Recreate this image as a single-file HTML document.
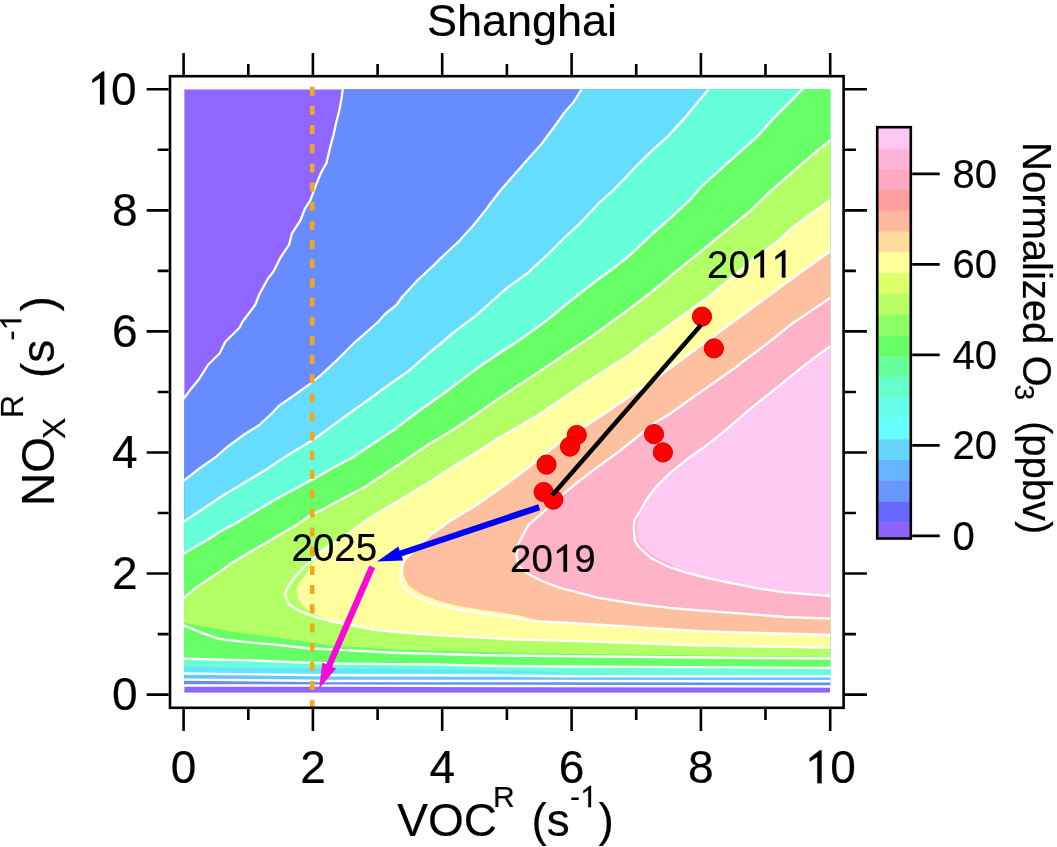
<!DOCTYPE html>
<html><head><meta charset="utf-8"><style>
html,body{margin:0;padding:0;background:#fff;width:1057px;height:847px;overflow:hidden;}
body{position:relative;font-family:"Liberation Sans",sans-serif;}
</style></head><body>
<svg width="1057" height="847" viewBox="0 0 1057 847" style="position:absolute;left:0;top:0;will-change:transform">
<defs><clipPath id="dc"><rect x="184.2" y="89.3" width="646.0" height="603.5"/></clipPath></defs>
<g clip-path="url(#dc)">
<rect x="184.2" y="89.3" width="646.0" height="603.5" fill="#8f66ff"/>
<path d="M342.8,85.0 L342.8,89.5 L341.4,99.2 L339.3,110.5 L336.4,121.8 L333.6,134.6 L330.1,147.4 L326.5,162.9 L320.9,172.9 L315.2,187.0 L310.5,200.0 L304.7,209.2 L300.4,220.5 L292.0,233.3 L289.1,244.6 L280.6,257.3 L273.5,271.5 L267.9,278.6 L259.4,294.2 L255.1,305.0 L242.3,322.0 L239.5,327.7 L225.3,341.8 L219.7,353.2 L208.3,364.5 L198.4,380.1 L191.3,388.6 L184.3,397.8 L180.0,403.0 L180.0,685.5 L184.3,685.5 L330.0,685.6 L500.0,686.0 L830.0,686.5 L835.0,686.5 L835.0,85.0 Z" fill="#668cff"/>
<path d="M581.5,85.0 L581.5,89.5 L573.7,102.0 L563.8,113.3 L553.8,127.5 L541.5,144.0 L528.0,159.0 L514.0,175.0 L500.0,191.0 L489.3,205.0 L485.3,210.6 L472.6,226.2 L458.4,241.8 L450.0,249.5 L440.0,258.8 L434.7,264.4 L417.7,280.0 L402.1,297.0 L396.4,305.0 L385.1,314.0 L378.0,322.0 L355.3,341.8 L338.3,358.8 L320.0,375.9 L307.5,385.8 L293.4,395.7 L279.2,405.6 L270.0,415.2 L259.4,425.0 L243.8,434.8 L228.2,446.2 L216.8,456.1 L211.2,460.3 L197.0,470.3 L184.3,480.2 L180.0,483.5 L180.0,679.6 L184.3,679.6 L330.0,681.0 L500.0,681.0 L830.0,681.3 L835.0,681.3 L835.0,85.0 Z" fill="#66dcff"/>
<path d="M708.4,85.0 L708.4,89.5 L699.2,100.6 L685.0,117.6 L668.0,136.0 L651.0,151.6 L636.0,166.5 L624.7,178.5 L612.0,191.5 L600.0,202.0 L580.0,223.3 L564.7,237.5 L547.7,254.5 L527.9,272.9 L508.0,287.1 L491.0,302.0 L475.8,315.8 L454.2,331.9 L440.0,344.0 L430.4,351.8 L409.2,370.5 L387.9,385.5 L366.7,401.0 L349.0,413.5 L332.5,425.7 L316.0,437.8 L307.5,443.3 L286.3,456.1 L265.0,470.3 L243.8,483.0 L222.5,495.8 L201.3,510.0 L184.3,521.3 L180.0,524.0 L180.0,673.5 L184.3,673.5 L330.0,675.3 L500.0,675.5 L560.0,676.2 L830.0,676.2 L835.0,676.2 L835.0,85.0 Z" fill="#66ffd9"/>
<path d="M802.4,85.0 L802.4,89.3 L793.0,98.9 L783.5,108.4 L773.1,118.8 L757.0,136.8 L740.0,151.9 L721.0,169.0 L701.0,187.0 L689.8,200.0 L670.9,217.7 L650.8,235.4 L629.5,255.5 L611.8,269.7 L600.0,278.0 L584.2,290.0 L570.0,301.3 L553.4,315.0 L546.3,320.6 L525.0,336.2 L503.8,350.3 L482.5,364.5 L461.3,380.1 L445.0,392.5 L430.4,402.8 L413.5,415.0 L395.0,429.2 L373.8,443.3 L352.5,457.5 L331.3,468.8 L317.0,477.0 L300.4,485.9 L279.2,497.2 L257.9,510.0 L236.7,522.7 L222.0,530.5 L208.3,539.2 L184.3,553.3 L180.0,556.0 L180.0,658.8 L184.3,658.8 L250.4,660.4 L306.7,662.8 L340.0,663.6 L438.8,664.6 L500.0,666.0 L560.0,666.5 L830.0,668.0 L835.0,668.0 L835.0,85.0 Z" fill="#66ff66"/>
<path d="M835.0,136.5 L830.1,140.5 L813.4,154.0 L792.1,172.4 L770.9,190.9 L749.6,211.5 L728.3,229.0 L714.2,240.5 L700.4,252.0 L676.8,270.9 L653.4,290.5 L633.8,305.6 L612.5,321.2 L591.3,336.8 L575.0,347.5 L560.4,357.4 L539.2,371.6 L517.9,385.8 L496.7,399.9 L476.0,414.5 L458.4,426.3 L445.0,434.8 L430.4,443.3 L409.2,457.5 L387.9,471.7 L366.7,485.9 L345.4,497.2 L324.2,508.5 L310.0,515.5 L298.0,524.0 L279.2,535.0 L272.1,539.2 L248.0,553.3 L233.8,561.8 L215.4,574.6 L198.4,585.9 L184.3,597.3 L180.0,600.8 L180.0,622.0 L184.3,623.0 L234.3,632.0 L298.7,640.5 L330.0,645.5 L395.0,649.5 L482.0,652.0 L550.0,653.5 L700.0,655.5 L830.1,657.0 L835.0,657.0 Z" fill="#b3ff66"/>
<path d="M835.0,196.5 L830.1,200.1 L813.4,212.1 L792.1,227.7 L779.4,240.0 L760.0,254.0 L738.3,272.0 L720.0,287.5 L710.0,295.7 L690.4,309.8 L669.2,325.4 L647.9,341.0 L626.7,356.6 L605.4,370.0 L584.0,384.0 L570.0,393.4 L560.4,400.0 L539.2,414.5 L520.0,425.8 L496.7,439.1 L475.4,453.3 L454.2,466.0 L447.0,470.5 L430.4,481.6 L409.2,494.4 L387.9,507.1 L366.7,519.9 L349.7,532.6 L335.0,542.0 L321.1,551.1 L314.0,561.0 L307.5,572.0 L300.5,581.0 L296.5,589.0 L298.0,598.0 L303.0,606.0 L309.0,611.0 L320.0,617.0 L329.8,621.0 L363.7,627.7 L373.5,629.8 L406.2,632.8 L438.8,635.3 L496.7,638.4 L504.0,639.2 L560.0,640.7 L580.0,641.2 L700.0,645.6 L830.1,647.7 L835.0,647.7 Z" fill="#ffffa0"/>
<path d="M835.0,248.0 L830.1,251.3 L806.3,268.3 L785.0,283.8 L763.8,299.4 L742.5,315.0 L721.3,330.5 L700.0,346.0 L673.0,366.1 L647.9,383.5 L626.7,398.5 L606.5,412.3 L584.2,426.9 L580.0,429.2 L556.2,444.8 L532.1,464.6 L503.8,485.9 L475.4,505.7 L450.0,521.0 L431.8,534.0 L418.0,547.0 L408.6,553.6 L403.9,565.4 L403.3,574.9 L408.6,585.5 L420.4,593.8 L438.1,600.8 L455.8,605.6 L485.0,610.3 L520.0,615.5 L539.2,621.4 L580.0,623.5 L659.7,628.6 L700.0,631.2 L830.1,635.0 L835.0,635.0 Z" fill="#ffc0a0"/>
<path d="M835.0,295.0 L830.1,298.0 L813.4,309.4 L792.1,323.5 L773.0,339.0 L756.7,351.5 L740.0,363.8 L735.4,367.5 L714.2,382.5 L700.0,392.4 L689.3,400.0 L669.2,414.2 L655.0,422.7 L640.9,434.0 L619.6,451.0 L598.3,466.6 L578.5,481.5 L564.7,492.9 L553.2,503.0 L546.3,509.4 L528.6,524.8 L522.7,535.4 L518.0,544.8 L516.5,555.0 L518.0,565.0 L525.1,572.0 L540.4,580.2 L558.1,587.3 L585.0,594.4 L598.3,597.9 L633.8,603.5 L669.2,607.8 L700.0,610.5 L742.5,613.7 L785.0,617.0 L830.1,618.6 L835.0,618.6 Z" fill="#ffb3c8"/>
<path d="M835.0,343.5 L830.1,346.5 L813.4,358.4 L792.1,375.4 L770.9,392.4 L749.6,409.4 L728.3,427.9 L711.0,442.0 L700.0,450.0 L690.4,456.7 L669.2,473.7 L655.0,488.0 L646.0,500.4 L642.5,511.5 L637.5,520.0 L637.0,529.3 L638.0,540.0 L642.0,546.0 L652.5,555.5 L668.5,563.5 L683.8,571.8 L700.0,576.1 L710.0,578.7 L728.3,582.5 L756.7,588.2 L785.0,592.4 L830.1,596.0 L835.0,596.0 Z" fill="#ffcaf2"/>
<path d="M180.0,673.5 L184.3,673.5 L330.0,675.3 L500.0,675.5 L560.0,676.2 L830.0,676.2 L835.0,676.2 L835.0,681.3 L830.0,681.3 L500.0,681.0 L330.0,681.0 L184.3,679.6 L180.0,679.6 Z" fill="#66c6f6"/>
<path d="M180.0,679.6 L184.3,679.6 L330.0,681.0 L500.0,681.0 L830.0,681.3 L835.0,681.3 L835.0,686.5 L830.0,686.5 L500.0,686.0 L330.0,685.6 L184.3,685.5 L180.0,685.5 Z" fill="#6a8cf0"/>
<path d="M180,667 L420,669 L560,671.8 L560,673.5 L180,673.5 Z" fill="#66e4fa"/>
<path d="M342.8,85.0 L342.8,89.5 L341.4,99.2 L339.3,110.5 L336.4,121.8 L333.6,134.6 L330.1,147.4 L326.5,162.9 L320.9,172.9 L315.2,187.0 L310.5,200.0 L304.7,209.2 L300.4,220.5 L292.0,233.3 L289.1,244.6 L280.6,257.3 L273.5,271.5 L267.9,278.6 L259.4,294.2 L255.1,305.0 L242.3,322.0 L239.5,327.7 L225.3,341.8 L219.7,353.2 L208.3,364.5 L198.4,380.1 L191.3,388.6 L184.3,397.8 L180.0,403.0" fill="none" stroke="#ffffff" stroke-width="2.3" stroke-linejoin="round" stroke-linecap="round"/>
<path d="M581.5,85.0 L581.5,89.5 L573.7,102.0 L563.8,113.3 L553.8,127.5 L541.5,144.0 L528.0,159.0 L514.0,175.0 L500.0,191.0 L489.3,205.0 L485.3,210.6 L472.6,226.2 L458.4,241.8 L450.0,249.5 L440.0,258.8 L434.7,264.4 L417.7,280.0 L402.1,297.0 L396.4,305.0 L385.1,314.0 L378.0,322.0 L355.3,341.8 L338.3,358.8 L320.0,375.9 L307.5,385.8 L293.4,395.7 L279.2,405.6 L270.0,415.2 L259.4,425.0 L243.8,434.8 L228.2,446.2 L216.8,456.1 L211.2,460.3 L197.0,470.3 L184.3,480.2 L180.0,483.5" fill="none" stroke="#ffffff" stroke-width="2.3" stroke-linejoin="round" stroke-linecap="round"/>
<path d="M708.4,85.0 L708.4,89.5 L699.2,100.6 L685.0,117.6 L668.0,136.0 L651.0,151.6 L636.0,166.5 L624.7,178.5 L612.0,191.5 L600.0,202.0 L580.0,223.3 L564.7,237.5 L547.7,254.5 L527.9,272.9 L508.0,287.1 L491.0,302.0 L475.8,315.8 L454.2,331.9 L440.0,344.0 L430.4,351.8 L409.2,370.5 L387.9,385.5 L366.7,401.0 L349.0,413.5 L332.5,425.7 L316.0,437.8 L307.5,443.3 L286.3,456.1 L265.0,470.3 L243.8,483.0 L222.5,495.8 L201.3,510.0 L184.3,521.3 L180.0,524.0" fill="none" stroke="#ffffff" stroke-width="2.3" stroke-linejoin="round" stroke-linecap="round"/>
<path d="M802.4,85.0 L802.4,89.3 L793.0,98.9 L783.5,108.4 L773.1,118.8 L757.0,136.8 L740.0,151.9 L721.0,169.0 L701.0,187.0 L689.8,200.0 L670.9,217.7 L650.8,235.4 L629.5,255.5 L611.8,269.7 L600.0,278.0 L584.2,290.0 L570.0,301.3 L553.4,315.0 L546.3,320.6 L525.0,336.2 L503.8,350.3 L482.5,364.5 L461.3,380.1 L445.0,392.5 L430.4,402.8 L413.5,415.0 L395.0,429.2 L373.8,443.3 L352.5,457.5 L331.3,468.8 L317.0,477.0 L300.4,485.9 L279.2,497.2 L257.9,510.0 L236.7,522.7 L222.0,530.5 L208.3,539.2 L184.3,553.3 L180.0,556.0" fill="none" stroke="#ffffff" stroke-width="2.3" stroke-linejoin="round" stroke-linecap="round"/>
<path d="M835.0,136.5 L830.1,140.5 L813.4,154.0 L792.1,172.4 L770.9,190.9 L749.6,211.5 L728.3,229.0 L714.2,240.5 L700.4,252.0 L676.8,270.9 L653.4,290.5 L633.8,305.6 L612.5,321.2 L591.3,336.8 L575.0,347.5 L560.4,357.4 L539.2,371.6 L517.9,385.8 L496.7,399.9 L476.0,414.5 L458.4,426.3 L445.0,434.8 L430.4,443.3 L409.2,457.5 L387.9,471.7 L366.7,485.9 L345.4,497.2 L324.2,508.5 L310.0,515.5 L298.0,524.0 L279.2,535.0 L272.1,539.2 L248.0,553.3 L233.8,561.8 L215.4,574.6 L198.4,585.9 L184.3,597.3 L180.0,600.8" fill="none" stroke="#ffffff" stroke-width="2.3" stroke-linejoin="round" stroke-linecap="round"/>
<path d="M835.0,196.5 L830.1,200.1 L813.4,212.1 L792.1,227.7 L779.4,240.0 L760.0,254.0 L738.3,272.0 L720.0,287.5 L710.0,295.7 L690.4,309.8 L669.2,325.4 L647.9,341.0 L626.7,356.6 L605.4,370.0 L584.0,384.0 L570.0,393.4 L560.4,400.0 L539.2,414.5 L520.0,425.8 L496.7,439.1 L475.4,453.3 L454.2,466.0 L447.0,470.5 L430.4,481.6 L409.2,494.4 L387.9,507.1 L366.7,519.9 L349.7,532.6 L335.0,542.0 L321.1,551.1 L311.8,560.4 L303.5,567.5 L293.4,578.8 L288.0,587.0 L284.7,594.0 L289.1,604.4 L300.4,611.4 L320.0,618.5 L329.8,621.0 L363.7,627.7 L373.5,629.8 L406.2,632.8 L438.8,635.3 L496.7,638.4 L504.0,639.2 L560.0,640.7 L580.0,641.2 L700.0,645.6 L830.1,647.7 L835.0,647.7" fill="none" stroke="#ffffff" stroke-width="2.3" stroke-linejoin="round" stroke-linecap="round"/>
<path d="M835.0,248.0 L830.1,251.3 L806.3,268.3 L785.0,283.8 L763.8,299.4 L742.5,315.0 L721.3,330.5 L700.0,346.0 L673.0,366.1 L647.9,383.5 L626.7,398.5 L606.5,412.3 L584.2,426.9 L580.0,429.2 L556.2,444.8 L532.1,464.6 L503.8,485.9 L475.4,505.7 L450.0,521.0 L431.8,534.0 L414.8,549.4 L403.5,561.0 L400.5,572.0 L400.5,580.0 L403.0,587.0 L414.5,596.1 L432.2,603.2 L455.8,609.1 L485.0,613.8 L539.2,621.4 L580.0,623.5 L659.7,628.6 L700.0,631.2 L830.1,635.0 L835.0,635.0" fill="none" stroke="#ffffff" stroke-width="2.3" stroke-linejoin="round" stroke-linecap="round"/>
<path d="M835.0,295.0 L830.1,298.0 L813.4,309.4 L792.1,323.5 L773.0,339.0 L756.7,351.5 L740.0,363.8 L735.4,367.5 L714.2,382.5 L700.0,392.4 L689.3,400.0 L669.2,414.2 L655.0,422.7 L640.9,434.0 L619.6,451.0 L598.3,466.6 L578.5,481.5 L564.7,492.9 L553.2,503.0 L546.3,509.4 L528.6,524.8 L522.7,535.4 L518.0,544.8 L516.5,555.0 L518.0,565.0 L525.1,572.0 L540.4,580.2 L558.1,587.3 L585.0,594.4 L598.3,597.9 L633.8,603.5 L669.2,607.8 L700.0,610.5 L742.5,613.7 L785.0,617.0 L830.1,618.6 L835.0,618.6" fill="none" stroke="#ffffff" stroke-width="2.3" stroke-linejoin="round" stroke-linecap="round"/>
<path d="M835.0,343.5 L830.1,346.5 L813.4,358.4 L792.1,375.4 L770.9,392.4 L749.6,409.4 L728.3,427.9 L711.0,442.0 L700.0,450.0 L690.4,456.7 L669.2,473.7 L655.0,488.0 L646.0,500.4 L640.2,511.3 L634.3,519.8 L633.8,529.3 L634.9,541.0 L639.1,547.4 L650.8,558.0 L667.8,566.5 L683.8,571.8 L700.0,576.1 L710.0,578.7 L728.3,582.5 L756.7,588.2 L785.0,592.4 L830.1,596.0 L835.0,596.0" fill="none" stroke="#ffffff" stroke-width="2.3" stroke-linejoin="round" stroke-linecap="round"/>
<path d="M180.0,685.5 L184.3,685.5 L330.0,685.6 L500.0,686.0 L830.0,686.5 L835.0,686.5" fill="none" stroke="#ffffff" stroke-width="2.4" stroke-linejoin="round" stroke-linecap="round"/>
<path d="M180.0,679.6 L184.3,679.6 L330.0,681.0 L500.0,681.0 L830.0,681.3 L835.0,681.3" fill="none" stroke="#ffffff" stroke-width="2.4" stroke-linejoin="round" stroke-linecap="round"/>
<path d="M180.0,673.5 L184.3,673.5 L330.0,675.3 L500.0,675.5 L560.0,676.2 L830.0,676.2 L835.0,676.2" fill="none" stroke="#ffffff" stroke-width="2.4" stroke-linejoin="round" stroke-linecap="round"/>
<path d="M180.0,658.8 L184.3,658.8 L250.4,660.4 L306.7,662.8 L340.0,663.6 L438.8,664.6 L500.0,666.0 L560.0,666.5 L830.0,668.0 L835.0,668.0" fill="none" stroke="#ffffff" stroke-width="2.4" stroke-linejoin="round" stroke-linecap="round"/>
<path d="M180.0,624.0 L184.3,625.6 L201.3,632.7 L219.7,639.1 L250.9,642.6 L279.2,645.0 L306.7,648.3 L330.0,649.4 L395.3,652.7 L482.3,655.3 L550.0,656.0 L700.0,657.5 L830.1,658.5 L835.0,658.5" fill="none" stroke="#ffffff" stroke-width="2.4" stroke-linejoin="round" stroke-linecap="round"/>
</g>
<line x1="312.2" y1="86.7" x2="312.2" y2="709" stroke="#f0a820" stroke-width="4.6" stroke-dasharray="9 10.17"/>
<rect x="170" y="76.2" width="673.6" height="631.6" fill="none" stroke="#000" stroke-width="2.6"/>
<path d="M183.6,708.9 v22 M183.6,75 v-22 M168.7,694.6 h-22 M844.9,694.6 h22 M248.3,708.9 v11 M248.3,75 v-11 M168.7,634.1 h-11 M844.9,634.1 h11 M312.9,708.9 v22 M312.9,75 v-22 M168.7,573.5 h-22 M844.9,573.5 h22 M377.6,708.9 v11 M377.6,75 v-11 M168.7,513.0 h-11 M844.9,513.0 h11 M442.2,708.9 v22 M442.2,75 v-22 M168.7,452.5 h-22 M844.9,452.5 h22 M506.9,708.9 v11 M506.9,75 v-11 M168.7,392.0 h-11 M844.9,392.0 h11 M571.6,708.9 v22 M571.6,75 v-22 M168.7,331.4 h-22 M844.9,331.4 h22 M636.2,708.9 v11 M636.2,75 v-11 M168.7,270.9 h-11 M844.9,270.9 h11 M700.9,708.9 v22 M700.9,75 v-22 M168.7,210.4 h-22 M844.9,210.4 h22 M765.5,708.9 v11 M765.5,75 v-11 M168.7,149.8 h-11 M844.9,149.8 h11 M830.2,708.9 v22 M830.2,75 v-22 M168.7,89.3 h-22 M844.9,89.3 h22" stroke="#000" stroke-width="2.6" fill="none"/>
<circle cx="702" cy="316.6" r="9.6" fill="#ff0000" stroke="#d80000" stroke-width="1"/>
<circle cx="713.9" cy="348.4" r="9.6" fill="#ff0000" stroke="#d80000" stroke-width="1"/>
<circle cx="654" cy="434.1" r="9.6" fill="#ff0000" stroke="#d80000" stroke-width="1"/>
<circle cx="662.9" cy="452.4" r="9.6" fill="#ff0000" stroke="#d80000" stroke-width="1"/>
<circle cx="576.8" cy="435" r="9.6" fill="#ff0000" stroke="#d80000" stroke-width="1"/>
<circle cx="570" cy="446.6" r="9.6" fill="#ff0000" stroke="#d80000" stroke-width="1"/>
<circle cx="546.5" cy="464.6" r="9.6" fill="#ff0000" stroke="#d80000" stroke-width="1"/>
<circle cx="543.6" cy="492" r="9.6" fill="#ff0000" stroke="#d80000" stroke-width="1"/>
<circle cx="553.3" cy="499.6" r="9.6" fill="#ff0000" stroke="#d80000" stroke-width="1"/>
<line x1="701" y1="325" x2="552" y2="495.5" stroke="#000" stroke-width="4.4"/>
<line x1="539.2" y1="507.2" x2="398.8" y2="554.1" stroke="#0000ff" stroke-width="6.2"/><path d="M377.0,561.4 L398.3,546.4 L403.1,560.6 Z" fill="#0000ff"/>
<line x1="372.2" y1="566.8" x2="328.4" y2="667.3" stroke="#fa08d8" stroke-width="6.4"/><path d="M319.2,688.4 L322.3,662.5 L336.1,668.5 Z" fill="#fa08d8"/>
<rect x="877" y="127.7" width="34" height="21.1" fill="#ffc6f4"/>
<rect x="877" y="148.5" width="34" height="21.1" fill="#ffb4dc"/>
<rect x="877" y="169.2" width="34" height="21.1" fill="#ffa8c4"/>
<rect x="877" y="190.0" width="34" height="21.1" fill="#ffa0a0"/>
<rect x="877" y="210.8" width="34" height="21.1" fill="#ffb8a0"/>
<rect x="877" y="231.6" width="34" height="21.1" fill="#ffdc9c"/>
<rect x="877" y="252.3" width="34" height="21.1" fill="#ffff9c"/>
<rect x="877" y="273.1" width="34" height="21.1" fill="#dcff6a"/>
<rect x="877" y="293.9" width="34" height="21.1" fill="#b8ff66"/>
<rect x="877" y="314.6" width="34" height="21.1" fill="#8cff66"/>
<rect x="877" y="335.4" width="34" height="21.1" fill="#66ff66"/>
<rect x="877" y="356.2" width="34" height="21.1" fill="#66ff99"/>
<rect x="877" y="376.9" width="34" height="21.1" fill="#66ffcc"/>
<rect x="877" y="397.7" width="34" height="21.1" fill="#66ffee"/>
<rect x="877" y="418.5" width="34" height="21.1" fill="#66ffff"/>
<rect x="877" y="439.2" width="34" height="21.1" fill="#66d6ff"/>
<rect x="877" y="460.0" width="34" height="21.1" fill="#66b6ff"/>
<rect x="877" y="480.8" width="34" height="21.1" fill="#6a96ff"/>
<rect x="877" y="501.6" width="34" height="21.1" fill="#6868ff"/>
<rect x="877" y="522.3" width="34" height="16.0" fill="#8e62ff"/>
<rect x="877.2" y="127.2" width="33.6" height="411.3" fill="none" stroke="#000" stroke-width="2.6"/>
<path d="M912.2,535.9 h27.5 M912.2,445.4 h27.5 M912.2,354.9 h27.5 M912.2,264.4 h27.5 M912.2,173.9 h27.5" stroke="#000" stroke-width="2.6" fill="none"/>
<text x="952.5" y="549.9" font-size="40" font-family="Liberation Sans, sans-serif" stroke="#000" stroke-width="0.2">0</text>
<text x="952.5" y="459.4" font-size="40" font-family="Liberation Sans, sans-serif" stroke="#000" stroke-width="0.2">20</text>
<text x="952.5" y="368.9" font-size="40" font-family="Liberation Sans, sans-serif" stroke="#000" stroke-width="0.2">40</text>
<text x="952.5" y="278.4" font-size="40" font-family="Liberation Sans, sans-serif" stroke="#000" stroke-width="0.2">60</text>
<text x="952.5" y="187.9" font-size="40" font-family="Liberation Sans, sans-serif" stroke="#000" stroke-width="0.2">80</text>
<text transform="translate(1023,142) rotate(90)" font-size="40" font-family="Liberation Sans, sans-serif" stroke="#000" stroke-width="0.2">Normalized O</text>
<text transform="translate(1015,384.5) rotate(90)" font-size="28" font-family="Liberation Sans, sans-serif" stroke="#000" stroke-width="0.2">3</text>
<text transform="translate(1023,421) rotate(90)" font-size="40" font-family="Liberation Sans, sans-serif" stroke="#000" stroke-width="0.2">(ppbv)</text>
<text x="522" y="36.4" text-anchor="middle" font-size="45" font-family="Liberation Sans, sans-serif" stroke="#000" stroke-width="0.2">Shanghai</text>
<text x="170.81" y="783.20" font-size="46" font-family="Liberation Sans, sans-serif" stroke="#000" stroke-width="0.2">0</text>
<text x="300.13" y="783.20" font-size="46" font-family="Liberation Sans, sans-serif" stroke="#000" stroke-width="0.2">2</text>
<text x="429.45" y="783.20" font-size="46" font-family="Liberation Sans, sans-serif" stroke="#000" stroke-width="0.2">4</text>
<text x="558.77" y="783.20" font-size="46" font-family="Liberation Sans, sans-serif" stroke="#000" stroke-width="0.2">6</text>
<text x="688.09" y="783.20" font-size="46" font-family="Liberation Sans, sans-serif" stroke="#000" stroke-width="0.2">8</text>
<path d="M821.60,783.20 L821.60,750.26 L819.80,750.26 L809.64,758.13 L809.64,761.67 L817.32,756.89 L817.32,783.20 Z" fill="#000" stroke="#000" stroke-width="0.2"/><text x="830.20" y="783.20" font-size="46" font-family="Liberation Sans, sans-serif" stroke="#000" stroke-width="0.2">0</text>
<text x="111.92" y="709.80" font-size="46" font-family="Liberation Sans, sans-serif" stroke="#000" stroke-width="0.2">0</text>
<text x="111.92" y="588.74" font-size="46" font-family="Liberation Sans, sans-serif" stroke="#000" stroke-width="0.2">2</text>
<text x="111.92" y="467.68" font-size="46" font-family="Liberation Sans, sans-serif" stroke="#000" stroke-width="0.2">4</text>
<text x="111.92" y="346.62" font-size="46" font-family="Liberation Sans, sans-serif" stroke="#000" stroke-width="0.2">6</text>
<text x="111.92" y="225.56" font-size="46" font-family="Liberation Sans, sans-serif" stroke="#000" stroke-width="0.2">8</text>
<path d="M104.27,104.50 L104.27,71.56 L102.48,71.56 L92.31,79.43 L92.31,82.97 L100.00,78.19 L100.00,104.50 Z" fill="#000" stroke="#000" stroke-width="0.2"/>
<text x="110.90" y="104.50" font-size="46" font-family="Liberation Sans, sans-serif" stroke="#000" stroke-width="0.2">0</text>
<text x="397.3" y="836.1" font-size="46" font-family="Liberation Sans, sans-serif" stroke="#000" stroke-width="0.2">VOC</text>
<text x="493" y="807.2" font-size="30" font-family="Liberation Sans, sans-serif" stroke="#000" stroke-width="0.2">R</text>
<text x="531.5" y="836.1" font-size="46" font-family="Liberation Sans, sans-serif" stroke="#000" stroke-width="0.2">(s</text>
<text x="570.00" y="807.20" font-size="30" font-family="Liberation Sans, sans-serif" stroke="#000" stroke-width="0.2">-</text><path d="M591.06,807.20 L591.06,785.72 L589.89,785.72 L583.26,790.85 L583.26,793.16 L588.27,790.04 L588.27,807.20 Z" fill="#000" stroke="#000" stroke-width="0.2"/>
<text x="598.6" y="836.1" font-size="46" font-family="Liberation Sans, sans-serif" stroke="#000" stroke-width="0.2">)</text>
<text transform="translate(53.8,506) rotate(-90)" font-size="46" font-family="Liberation Sans, sans-serif" stroke="#000" stroke-width="0.2">NO</text>
<text transform="translate(64.8,439) rotate(-90)" font-size="32" font-family="Liberation Sans, sans-serif" stroke="#000" stroke-width="0.2">X</text>
<text transform="translate(22.5,418) rotate(-90)" font-size="32" font-family="Liberation Sans, sans-serif" stroke="#000" stroke-width="0.2">R</text>
<text transform="translate(53.8,378) rotate(-90)" font-size="46" font-family="Liberation Sans, sans-serif" stroke="#000" stroke-width="0.2">(s</text>
<g transform="translate(21.3,340.5) rotate(-90)"><text x="0.00" y="0.00" font-size="30" font-family="Liberation Sans, sans-serif" stroke="#000" stroke-width="0.2">-</text><path d="M21.06,0.00 L21.06,-21.48 L19.89,-21.48 L13.26,-16.35 L13.26,-14.04 L18.27,-17.16 L18.27,0.00 Z" fill="#000" stroke="#000" stroke-width="0.2"/></g>
<text transform="translate(53.8,311.5) rotate(-90)" font-size="46" font-family="Liberation Sans, sans-serif" stroke="#000" stroke-width="0.2">)</text>
<text x="707.00" y="277.50" font-size="38.5" font-family="Liberation Sans, sans-serif" stroke="#000" stroke-width="0.2">2</text><text x="728.41" y="277.50" font-size="38.5" font-family="Liberation Sans, sans-serif" stroke="#000" stroke-width="0.2">0</text><path d="M764.02,277.50 L764.02,249.93 L762.52,249.93 L754.01,256.52 L754.01,259.48 L760.44,255.48 L760.44,277.50 Z" fill="#000" stroke="#000" stroke-width="0.2"/><path d="M785.42,277.50 L785.42,249.93 L783.92,249.93 L775.41,256.52 L775.41,259.48 L781.84,255.48 L781.84,277.50 Z" fill="#000" stroke="#000" stroke-width="0.2"/>
<text x="510.00" y="571.80" font-size="38.5" font-family="Liberation Sans, sans-serif" stroke="#000" stroke-width="0.2">2</text><text x="531.41" y="571.80" font-size="38.5" font-family="Liberation Sans, sans-serif" stroke="#000" stroke-width="0.2">0</text><path d="M567.02,571.80 L567.02,544.23 L565.52,544.23 L557.01,550.82 L557.01,553.78 L563.44,549.78 L563.44,571.80 Z" fill="#000" stroke="#000" stroke-width="0.2"/><text x="574.22" y="571.80" font-size="38.5" font-family="Liberation Sans, sans-serif" stroke="#000" stroke-width="0.2">9</text>
<text x="291.50" y="560.50" font-size="38.5" font-family="Liberation Sans, sans-serif" stroke="#000" stroke-width="0.2">2</text><text x="312.91" y="560.50" font-size="38.5" font-family="Liberation Sans, sans-serif" stroke="#000" stroke-width="0.2">0</text><text x="334.31" y="560.50" font-size="38.5" font-family="Liberation Sans, sans-serif" stroke="#000" stroke-width="0.2">2</text><text x="355.72" y="560.50" font-size="38.5" font-family="Liberation Sans, sans-serif" stroke="#000" stroke-width="0.2">5</text>
</svg>
</body></html>
